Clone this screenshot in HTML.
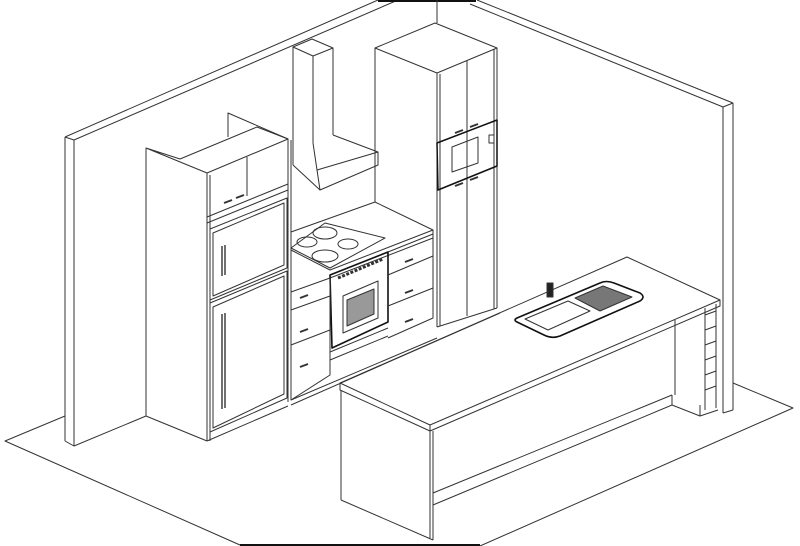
<!DOCTYPE html>
<html><head><style>html,body{margin:0;padding:0;background:#fff}svg{display:block}</style></head>
<body>
<svg width="800" height="546" viewBox="0 0 800 546" xmlns="http://www.w3.org/2000/svg" fill="none" stroke="#333" stroke-width="1" stroke-linejoin="round">
<!-- floor -->
<polyline points="65,416 5,441 240,545"/>
<line x1="240" y1="545" x2="480" y2="545" stroke="#111" stroke-width="2"/>
<polyline points="480,546 793,408 733,383"/>
<!-- left wall -->
<line x1="65" y1="137" x2="378" y2="0"/>
<line x1="74" y1="140" x2="398" y2="0"/>
<line x1="65" y1="137" x2="74" y2="140"/>
<line x1="65" y1="137" x2="65" y2="441"/>
<line x1="74" y1="140" x2="74" y2="446"/>
<polyline points="65,441 74,446 146,416"/>
<line x1="378" y1="1" x2="476" y2="1" stroke="#111" stroke-width="2"/>
<line x1="437" y1="0" x2="437" y2="23"/>
<!-- right wall -->
<line x1="477" y1="0" x2="733" y2="103"/>
<line x1="470" y1="4" x2="723" y2="107"/>
<line x1="723" y1="107" x2="733" y2="103"/>
<line x1="723" y1="107" x2="723" y2="413"/>
<line x1="733" y1="103" x2="733" y2="410"/>
<line x1="723" y1="413" x2="733" y2="410"/>
<!-- fridge tower -->
<polyline points="146,416 146,148 207,173 288,139 257,127 180,159 146,148"/>
<polyline points="228,137 228,113 288,139"/>
<line x1="207" y1="173" x2="207" y2="441"/>
<line x1="210" y1="175" x2="210" y2="441"/>
<line x1="288" y1="139" x2="288" y2="402"/>
<line x1="291" y1="140" x2="291" y2="400"/>
<line x1="146" y1="416" x2="207" y2="441"/>
<line x1="207" y1="441" x2="288" y2="406"/>
<line x1="247" y1="157" x2="247" y2="196"/>
<line x1="207" y1="223" x2="288" y2="190"/>
<line x1="207" y1="217" x2="288" y2="184"/>
<polygon points="210,229 287,198 287,268 210,300"/>
<polygon points="213,233 284,203 284,265 213,296"/>
<polygon points="210,303 287,271 287,398 210,432"/>
<polygon points="213,307 284,276 284,394 213,428"/>
<path d="M222 246 v30 M225 245 v30 M222 314 v95 M225 313 v95" stroke-width="1.4"/>
<path d="M224 203 l8 -3 M236 198 l8 -3" stroke-width="2"/>
<!-- hood -->
<polyline points="293,165 293,47 312,39 333,48 313,56 293,47"/>
<line x1="313" y1="56" x2="313" y2="143"/>
<line x1="333" y1="48" x2="333" y2="135"/>
<polyline points="313,143 317,170 378,152 333,135"/>
<polyline points="293,165 320,190 378,165 378,152"/>
<line x1="317" y1="170" x2="320" y2="190"/>
<!-- counter & base cabinets -->
<polyline points="291,232 375,202 433,230 330,270 291,250"/>
<line x1="375" y1="165" x2="375" y2="202"/>
<polygon points="291,248 325,223 385,238 330,268" />
<ellipse cx="307" cy="242" rx="10" ry="5"/>
<ellipse cx="325" cy="233" rx="12" ry="6"/>
<ellipse cx="325" cy="256" rx="13" ry="6"/>
<ellipse cx="348" cy="244" rx="10" ry="5"/>
<polyline points="433,230 433,238 330,278 291,292"/>
<polygon points="330,275 388,252 388,322 332,348" stroke="#111" stroke-width="1.6"/>
<polygon points="343,296 378,281 378,318 343,333" />
<polygon points="347,300 374,289 374,314 347,326" fill="#999" stroke="#333"/>
<path d="M338 278 l45 -19" stroke-dasharray="3 1.5" stroke-width="3"/>
<polyline points="291,292 291,400 330,375 330,278"/>
<line x1="291" y1="310" x2="330" y2="296"/>
<line x1="291" y1="345" x2="330" y2="330"/>
<line x1="330" y1="352" x2="388" y2="328"/>
<line x1="330" y1="360" x2="388" y2="336"/>
<line x1="330" y1="348" x2="330" y2="375"/>
<polyline points="388,252 433,234 433,318 388,338"/>
<line x1="388" y1="275" x2="433" y2="256"/>
<line x1="388" y1="306" x2="433" y2="288"/>
<line x1="291" y1="400" x2="437" y2="338"/>
<line x1="291" y1="405" x2="500" y2="313"/>
<path d="M300 298l8-3 M300 332l8-3 M300 367l8-3 M405 262l8-3 M405 293l8-3 M405 322l8-3" stroke-width="2"/>
<!-- tall cabinet -->
<polyline points="375,165 375,48 435,23 497,48 437,73 375,48"/>
<line x1="437" y1="73" x2="437" y2="327"/>
<line x1="440" y1="74" x2="440" y2="326"/>
<line x1="497" y1="48" x2="497" y2="308"/>
<line x1="494" y1="49" x2="494" y2="309"/>
<line x1="467" y1="61" x2="467" y2="316"/>
<polyline points="437,327 497,308"/>
<polygon points="437,143 497,120 497,166 438,190" stroke="#111" stroke-width="1.5"/>
<polygon points="452,147 478,137 478,163 452,172"/>
<path d="M455 133l8-3 M470 127l8-3 M455 186l8-3 M470 180l8-3" stroke-width="2"/>
<rect x="489" y="135" width="5" height="8"/>
<!-- island -->
<polygon points="340,383 627,257 720,300 430,425"/>
<polyline points="340,383 340,390 430,431 720,306 720,300"/>
<line x1="430" y1="425" x2="430" y2="431"/>
<line x1="341" y1="390" x2="341" y2="500"/>
<line x1="433" y1="431" x2="433" y2="540"/>
<line x1="430" y1="431" x2="430" y2="538"/>
<line x1="341" y1="500" x2="433" y2="540"/>
<line x1="433" y1="493" x2="672" y2="395"/>
<line x1="433" y1="505" x2="672" y2="405"/>
<line x1="675" y1="320" x2="675" y2="395"/>
<polyline points="672,395 672,405 700,416 700,405"/>
<line x1="700" y1="416" x2="718" y2="410"/>
<line x1="705" y1="308" x2="705" y2="410"/>
<line x1="716" y1="304" x2="716" y2="408"/>
<path d="M705 315l11 -4 M705 330l11 -4 M705 345l11 -4 M705 360l11 -4 M705 375l11 -4 M705 390l11 -4" />
<!-- sink -->
<path d="M517 318 L600 283 Q606 280 614 283 L640 293 Q646 297 640 301 L560 336 Q552 339 544 335 L517 322 Q513 320 517 318 Z" stroke="#111" stroke-width="1.6"/>
<path d="M525 319 L568 301 L590 311 L548 330 Z"/>
<path d="M575 298 L603 286 L632 297 L600 311 Z" fill="#777"/>
<rect x="547" y="283" width="6" height="14" fill="#222"/>
</svg>
</body></html>
